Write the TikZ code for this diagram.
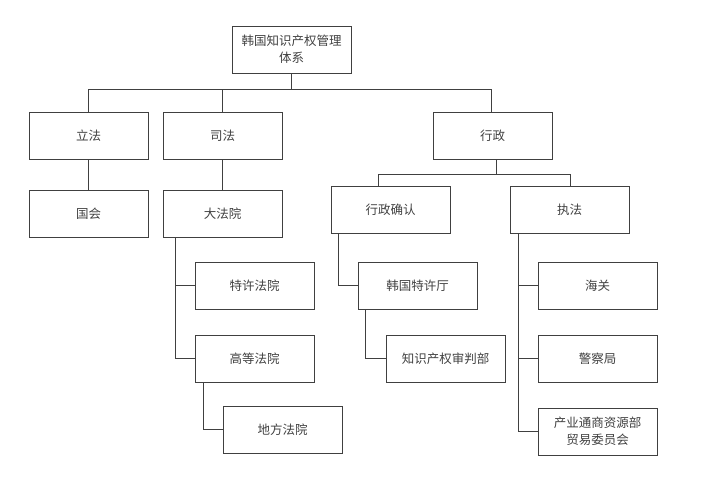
\documentclass[tikz,border=0pt]{standalone}
\usepackage{fontspec}
\newfontfamily\cjk{Noto Sans CJK SC}
\usetikzlibrary{positioning}

\begin{document}
\begin{tikzpicture}[
    x=1pt, y=-1pt,
    box/.style={rectangle, draw=black!75, line width=1pt, minimum width=119pt, minimum height=47pt, inner sep=1pt, align=center, text=black!75, font=\cjk\fontsize{12.5}{17}\selectfont},
    link/.style={draw=black!75, line width=1pt}
]
\useasboundingbox (0,0) rectangle (711,480);

% Nodes
\node (root) [box] at (291.5,49.5) {韩国知识产权管理\\体系};
\node (lifa) [box] at (88.5,135.5) {立法};
\node (sifa) [box] at (222.5,135.5) {司法};
\node (xingzheng) [box] at (492.5,135.5) {行政};
\node (guohui) [box, below=30pt of lifa] {国会};
\node (dafayuan) [box, below=30pt of sifa] {大法院};
\node (queren) [box] at (390.5,210) {行政确认};
\node (zhifa) [box] at (569.5,210) {执法};
\node (tefa) [box] at (254.5,285.5) {特许法院};
\node (gaodeng) [box, below=25pt of tefa] {高等法院};
\node (difang) [box, below right=23pt and -92pt of gaodeng] {地方法院};
\node (texuting) [box] at (417.5,285.5) {韩国特许厅};
\node (shenpan) [box, below right=25pt and -92pt of texuting] {知识产权审判部};
\node (haiguan) [box] at (597.5,285.5) {海关};
\node (jingcha) [box, below=25pt of haiguan] {警察局};
\node (maoyi) [box, below=25pt of jingcha] {产业通商资源部\\贸易委员会};

% Connectors
\draw [link] (root.south) -- ++(0,16) -| (lifa.north);
\draw [link] (root.south) -- ++(0,16) -| (sifa.north);
\draw [link] (root.south) -- ++(0,16) -| ([xshift=-1.5pt]xingzheng.north);
\draw [link] (lifa) -- (guohui);
\draw [link] (sifa) -- (dafayuan);
\draw [link] ([xshift=3.5pt]xingzheng.south) -- ++(0,15) -| ([xshift=-12.5pt]queren.north);
\draw [link] ([xshift=3.5pt]xingzheng.south) -- ++(0,15) -| ([xshift=0.5pt]zhifa.north);
\draw [link] ([xshift=13pt]dafayuan.south west) |- (tefa.west);
\draw [link] ([xshift=13pt]dafayuan.south west) |- (gaodeng.west);
\draw [link] ([xshift=9pt]gaodeng.south west) |- (difang.west);
\draw [link] ([xshift=8pt]queren.south west) |- (texuting.west);
\draw [link] ([xshift=8pt]texuting.south west) |- (shenpan.west);
\draw [link] ([xshift=9pt]zhifa.south west) |- (haiguan.west);
\draw [link] ([xshift=9pt]zhifa.south west) |- (jingcha.west);
\draw [link] ([xshift=9pt]zhifa.south west) |- (maoyi.west);

\end{tikzpicture}
\end{document}
